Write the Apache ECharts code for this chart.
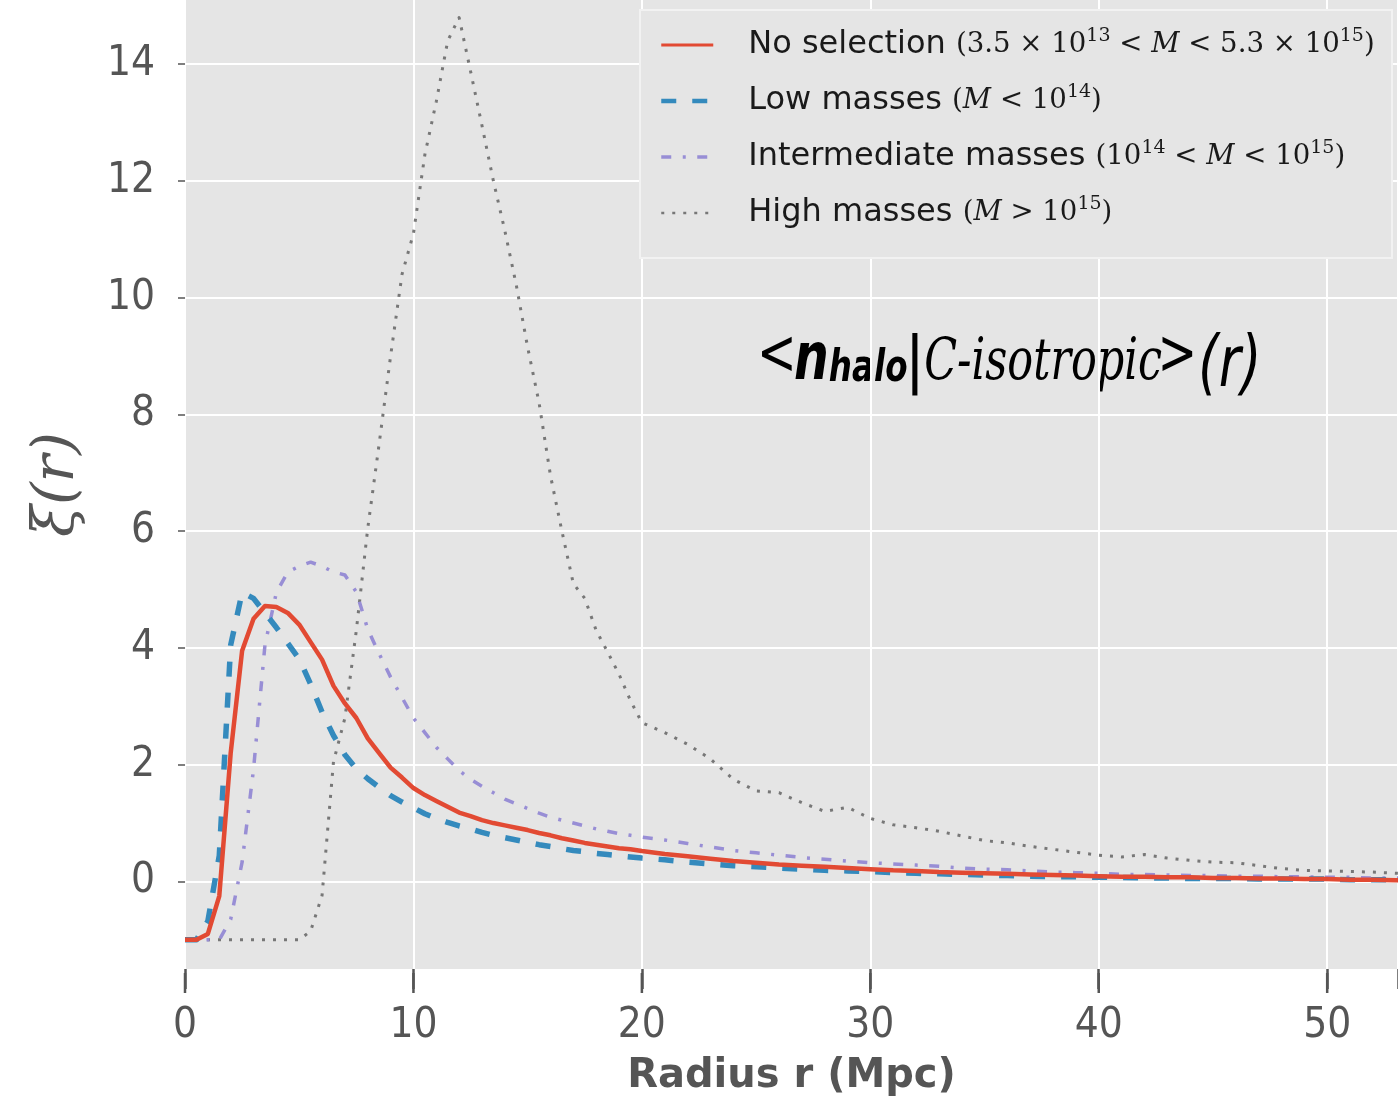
<!DOCTYPE html>
<html>
<head>
<meta charset="utf-8">
<script src="https://cdn.jsdelivr.net/npm/echarts@6/dist/echarts.min.js"></script>
<style>
  html, body { margin: 0; padding: 0; background: #ffffff; }
  #chart { width: 1398px; height: 1108px; }
</style>
</head>
<body>
<div id="chart"></div>
<script>
// Radius bins (Mpc)
const radius = [
  0, 0.5, 1, 1.5, 2, 2.5, 3, 3.5, 4, 4.5, 5, 5.5, 6, 6.5, 7, 7.5, 8, 8.5, 9, 9.5,
  10, 10.5, 11, 11.5, 12, 12.5, 13, 13.5, 14, 14.5, 15, 15.5, 16, 16.5, 17, 17.5, 18, 18.5, 19, 19.5,
  20, 21, 22, 23, 24, 25, 26, 27, 28, 29, 30, 31, 32, 33, 34, 35, 36, 37, 38, 39,
  40, 41, 42, 43, 44, 45, 46, 47, 48, 49, 50, 51, 52, 53, 54
];

// Correlation function xi(r) for each mass selection
const xiNoSelection = [
  -1, -1, -0.9, -0.25, 2.2, 3.95, 4.5, 4.72, 4.7, 4.6, 4.4, 4.1, 3.8, 3.35, 3.05, 2.8, 2.45, 2.2, 1.95, 1.78,
  1.6, 1.48, 1.38, 1.28, 1.18, 1.12, 1.05, 1.0, 0.96, 0.92, 0.88, 0.83, 0.79, 0.74, 0.7, 0.66, 0.63, 0.6, 0.57, 0.55,
  0.52, 0.47, 0.43, 0.39, 0.35, 0.32, 0.29, 0.27, 0.25, 0.23, 0.21, 0.19, 0.18, 0.16, 0.15, 0.14, 0.13, 0.12, 0.11, 0.1,
  0.09, 0.08, 0.08, 0.07, 0.07, 0.06, 0.06, 0.05, 0.05, 0.04, 0.04, 0.03, 0.03, 0.02, 0.02
];
const xiLowMasses = [
  -1, -1, -0.68, 0.44, 4.05, 4.95, 4.85, 4.6, 4.35, 4.08, 3.81, 3.38, 2.9, 2.5, 2.17, 1.93, 1.76, 1.61, 1.47, 1.36,
  1.26, 1.16, 1.08, 1.01, 0.95, 0.9, 0.84, 0.79, 0.75, 0.71, 0.67, 0.63, 0.6, 0.56, 0.53, 0.51, 0.48, 0.46, 0.44, 0.42,
  0.4, 0.37, 0.33, 0.3, 0.27, 0.25, 0.23, 0.21, 0.19, 0.18, 0.17, 0.15, 0.14, 0.13, 0.12, 0.11, 0.1, 0.09, 0.08, 0.08,
  0.07, 0.07, 0.06, 0.06, 0.05, 0.05, 0.05, 0.04, 0.04, 0.04, 0.04, 0.03, 0.03, 0.03, 0.03
];
const xiIntermediateMasses = [
  -1, -1, -1, -1, -0.65, 0.33, 1.92, 4.05, 4.95, 5.3, 5.4, 5.47, 5.4, 5.3, 5.25, 4.96, 4.32, 3.9, 3.5, 3.15,
  2.8, 2.55, 2.3, 2.1, 1.9, 1.75, 1.63, 1.52, 1.41, 1.33, 1.25, 1.17, 1.1, 1.05, 1.0, 0.95, 0.9, 0.86, 0.82, 0.79,
  0.76, 0.71, 0.65, 0.59, 0.53, 0.49, 0.45, 0.41, 0.38, 0.35, 0.32, 0.3, 0.28, 0.26, 0.23, 0.21, 0.2, 0.18, 0.16, 0.15,
  0.14, 0.12, 0.12, 0.11, 0.1, 0.1, 0.09, 0.09, 0.08, 0.08, 0.07, 0.07, 0.06, 0.06, 0.05
];
const xiHighMasses = [
  -1, -1, -1, -1, -1, -1, -1, -1, -1, -1, -1, -0.85, -0.24, 2.05, 2.8, 4.3, 6.05, 7.5, 9.0, 10.4,
  11.1, 12.45, 13.36, 14.4, 14.8, 13.88, 12.95, 12.0, 11.15, 10.22, 9.15, 8.2, 6.95, 6.0, 5.1, 4.85, 4.3, 3.93, 3.55, 3.1,
  2.72, 2.55, 2.35, 2.1, 1.75, 1.55, 1.52, 1.35, 1.2, 1.27, 1.08, 0.97, 0.92, 0.86, 0.78, 0.7, 0.66, 0.6, 0.55, 0.5,
  0.45, 0.42, 0.46, 0.4, 0.36, 0.33, 0.32, 0.27, 0.22, 0.19, 0.18, 0.17, 0.16, 0.14, 0.13
];

// Axis ticks and ranges
const xTicks = [0, 10, 20, 30, 40, 50];
const yTicks = [0, 2, 4, 6, 8, 10, 12, 14];
const xRange = [0, 53.1];
const yRange = [-1.5, 15.1];

// Series names and the mass range shown after each name in the legend
const seriesNames = ['No selection', 'Low masses', 'Intermediate masses', 'High masses'];
const massRanges = [
  [['m', '(3.5 × 10'], ['s', '13'], ['m', ' < '], ['i', 'M'], ['m', ' < 5.3 × 10'], ['s', '15'], ['m', ')']],
  [['m', '('], ['i', 'M'], ['m', ' < 10'], ['s', '14'], ['m', ')']],
  [['m', '(10'], ['s', '14'], ['m', ' < '], ['i', 'M'], ['m', ' < 10'], ['s', '15'], ['m', ')']],
  [['m', '('], ['i', 'M'], ['m', ' > 10'], ['s', '15'], ['m', ')']]
];

const colors = ['#E24A33', '#348ABD', '#988ED5', '#777777'];
const tickFont = "'DejaVu Sans Condensed', 'DejaVu Sans', sans-serif";

function pairs(ys) { return radius.map((r, i) => [r, ys[i]]); }

const chart = echarts.init(document.getElementById('chart'), null, { renderer: 'canvas' });

const lineStyles = [
  { width: 4.5, type: 'solid' },
  { width: 5.5, type: [15, 16] },
  { width: 3.5, type: [10, 11.5, 3, 11.5] },
  { width: 3, type: [3, 8] }
];
const legendWidths = [3, 4.5, 3.5, 2.5];
const seriesData = [xiNoSelection, xiLowMasses, xiIntermediateMasses, xiHighMasses];

const lineSeries = seriesNames.map((n, i) => ({
  name: n, type: 'line', data: pairs(seriesData[i]),
  showSymbol: false, symbol: 'none', smooth: false, z: 2 + (3 - i) * 0.1,
  lineStyle: { color: colors[i], width: lineStyles[i].width, type: lineStyles[i].type, cap: 'butt', join: 'round' },
  itemStyle: { color: colors[i] }
}));

// Outward x tick marks: thin rectangles hung just below the bottom edge of the plot
const xTickSeries = {
  type: 'scatter', name: 'x ticks', silent: true, clip: false, z: 10,
  data: xTicks.map(v => [v, yRange[0]]),
  symbol: 'rect', symbolSize: [2.5, 20], symbolOffset: [0, 14],
  itemStyle: { color: '#555555', opacity: 1 },
  emphasis: { disabled: true }
};

const baseGraphics = [
  {
    id: 'legendBox', type: 'rect', z: 3, silent: true,
    shape: { x: 640, y: 10, width: 752, height: 248 },
    style: { fill: '#E5E5E5', stroke: '#F2F2F2', lineWidth: 2 }
  },
  {
    id: 'annotation', type: 'group', x: 760, y: 0, scaleX: 0.74, z: 5, silent: true,
    children: [
      { type: 'text', x: -4, y: 357, style: { text: '<', font: "64px 'DejaVu Sans'", fill: '#000', verticalAlign: 'middle' } },
      { type: 'text', x: 46, y: 362, style: { text: 'n', font: "italic bold 66px 'DejaVu Sans'", fill: '#000', verticalAlign: 'middle' } },
      { type: 'text', x: 93, y: 370, style: { text: 'halo', font: "italic bold 44px 'DejaVu Sans'", fill: '#000', verticalAlign: 'middle' } },
      { type: 'text', x: 198, y: 364, style: { text: '|', font: "bold 62px 'DejaVu Sans'", fill: '#000', verticalAlign: 'middle' } },
      { type: 'text', x: 222, y: 364, style: { text: 'C-isotropic', font: "italic 58px 'DejaVu Serif'", fill: '#000', verticalAlign: 'middle' } },
      { type: 'text', x: 537, y: 357, style: { text: '>', font: "64px 'DejaVu Sans'", fill: '#000', verticalAlign: 'middle' } },
      { type: 'text', x: 592, y: 367, style: { text: '(r)', font: "italic 72px 'DejaVu Sans'", fill: '#000', verticalAlign: 'middle' } }
    ]
  }
];

const option = {
  backgroundColor: '#ffffff',
  animation: false,
  grid: { left: 185, right: 0, top: 0, bottom: 139, containLabel: false,
          show: true, backgroundColor: '#E5E5E5', borderWidth: 0 },
  xAxis: {
    type: 'value', position: 'bottom', min: xRange[0], max: xRange[1], interval: 10,
    name: 'Radius r (Mpc)', nameLocation: 'middle', nameGap: 88,
    nameTextStyle: { fontFamily: "'DejaVu Sans', sans-serif", fontWeight: 'bold', fontSize: 40, color: '#555555' },
    axisLine: { show: false, onZero: false },
    axisTick: { show: true, inside: false, length: 20, lineStyle: { color: '#555555', width: 2.5 } },
    axisLabel: { margin: 36, fontFamily: tickFont, fontSize: 42, color: '#555555', customValues: xTicks,
                 formatter: v => (xTicks.indexOf(v) >= 0 ? String(v) : '') },
    splitLine: { show: true, lineStyle: { color: '#ffffff', width: 2 } }
  },
  yAxis: {
    type: 'value', position: 'left', min: yRange[0], max: yRange[1],
    name: 'ξ(r)', nameLocation: 'middle', nameGap: 98, nameRotate: 90,
    nameTextStyle: { fontFamily: "'DejaVu Serif', serif", fontStyle: 'italic', fontSize: 58, color: '#555555' },
    axisLine: { show: false, onZero: false },
    axisTick: { show: true, inside: false, length: 7, customValues: yTicks,
                lineStyle: { color: '#555555', width: 1.5 } },
    axisLabel: { margin: 30, fontFamily: tickFont, fontSize: 42, color: '#555555', customValues: yTicks,
                 formatter: v => (yTicks.indexOf(v) >= 0 ? String(v) : '') },
    splitLine: { show: true, lineStyle: { color: '#ffffff', width: 2 } }
  },
  legend: {
    orient: 'vertical', left: 659, top: 27, padding: 0,
    itemWidth: 52, itemHeight: 14, itemGap: 22,
    data: seriesNames.map((n, i) => ({
      name: n,
      lineStyle: { width: legendWidths[i] },
      itemStyle: { color: 'rgba(0,0,0,0)', borderWidth: 0 }
    })),
    formatter: function (name) {
      const k = seriesNames.indexOf(name);
      const parts = massRanges[k].map(p => '{' + p[0] + '|' + p[1] + '}').join('');
      return '{t|' + name + ' }' + parts;
    },
    textStyle: {
      padding: [0, 0, 0, 30],
      rich: {
        t: { fontFamily: "'DejaVu Sans', sans-serif", fontSize: 32, color: '#1a1a1a', lineHeight: 36 },
        m: { fontFamily: "'DejaVu Serif', serif", fontSize: 27.6, color: '#1a1a1a', lineHeight: 36 },
        i: { fontFamily: "'DejaVu Serif', serif", fontStyle: 'italic', fontSize: 27.6, color: '#1a1a1a', lineHeight: 36 },
        s: { fontFamily: "'DejaVu Serif', serif", fontSize: 19, color: '#1a1a1a', lineHeight: 19, verticalAlign: 'top' }
      }
    }
  },
  graphic: baseGraphics,
  series: lineSeries.concat([xTickSeries])
};

chart.setOption(option);
</script>
</body>
</html>
